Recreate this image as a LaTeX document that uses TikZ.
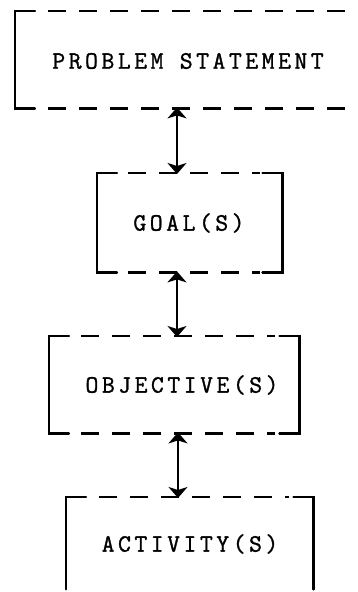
\documentclass[tikz,border=0pt]{standalone}
\usepackage{fontspec}
\usetikzlibrary{arrows.meta}
\newfontfamily\typer{Latin Modern Mono}[LetterSpace=14, FakeBold=1.2]
\tikzset{
  side/.style={line width=2.2pt, line cap=round, line join=miter},
  dashline/.style={line width=2.2pt, dash pattern=on 18pt off 13pt},
  frame/.style={draw=none, inner sep=0pt, anchor=north west},
  caption/.style={font=\typer\fontsize{25}{25}\selectfont, inner sep=0pt},
  link/.style={line width=2pt, {Stealth[length=11pt,width=19pt,inset=3pt]}-{Stealth[length=11pt,width=19pt,inset=3pt]}, shorten <=-1pt, shorten >=-1pt}
}
\begin{document}
\begin{tikzpicture}[x=1pt,y=-1pt]
\useasboundingbox (0,0) rectangle (357,592);

% invisible frames holding the four stages
\node[frame, minimum width=342pt, minimum height=97pt] (prob) at (15,11) {};
\node[frame, minimum width=185pt, minimum height=99pt] (goal) at (97,173) {};
\node[frame, minimum width=250pt, minimum height=97pt] (obj)  at (49,336) {};
\node[frame, minimum width=247pt, minimum height=92pt] (act)  at (66,497) {};

% stage captions
\node[caption] (tprob) at (188,61)  {PROBLEM STATEMENT};
\node[caption] (tgoal) at (189,223) {GOAL(S)};
\node[caption] (tobj)  at (182,385) {OBJECTIVE(S)};
\node[caption] (tact)  at (190,544) {ACTIVITY(S)};

% problem statement: solid left side, dashed top and bottom running off to the right
\draw[side] ([xshift=20pt]prob.north west) -- (prob.north west) -- (prob.south west) -- ([xshift=20pt]prob.south west);
\draw[dashline] ([xshift=33pt]prob.north west) -- (prob.north east);
\draw[dashline] ([xshift=33pt]prob.south west) -- (prob.south east);

% goal(s)
\draw[side] ([xshift=20pt]goal.north west) -- (goal.north west) -- (goal.south west) -- ([xshift=20pt]goal.south west);
\draw[side] ([xshift=-20pt]goal.north east) -- (goal.north east) -- (goal.south east) -- ([xshift=-20pt]goal.south east);
\draw[dashline] ([xshift=31pt]goal.north west) -- ([xshift=-22pt]goal.north east);
\draw[dashline] ([xshift=31pt]goal.south west) -- ([xshift=-22pt]goal.south east);

% objective(s)
\draw[side] ([xshift=20pt]obj.north west) -- (obj.north west) -- (obj.south west) -- ([xshift=20pt]obj.south west);
\draw[side] ([xshift=-20pt]obj.north east) -- (obj.north east) -- (obj.south east) -- ([xshift=-20pt]obj.south east);
\draw[dashline] ([xshift=32pt]obj.north west) -- ([xshift=-24pt]obj.north east);
\draw[dashline] ([xshift=32pt]obj.south west) -- ([xshift=-24pt]obj.south east);

% activity(s): open at the bottom
\draw[side] ([xshift=20pt]act.north west) -- (act.north west) -- (act.south west);
\draw[side] ([xshift=-20pt]act.north east) -- (act.north east) -- (act.south east);
\draw[dashline] ([xshift=33pt]act.north west) -- ([xshift=-24pt]act.north east);

% two-way links between the stages
\coordinate (ax) at (177,0);
\draw[link] (prob.south -| ax) -- (goal.north -| ax);
\draw[link] (goal.south -| ax) -- (obj.north -| ax);
\draw[link] ([xshift=1pt]obj.south -| ax) -- ([xshift=1pt]act.north -| ax);
\end{tikzpicture}
\end{document}
